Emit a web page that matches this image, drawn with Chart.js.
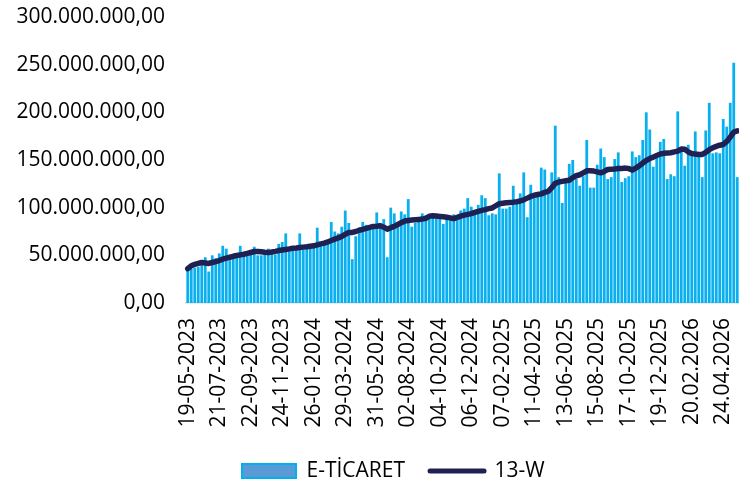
<!DOCTYPE html>
<html><head><meta charset="utf-8">
<script src="https://cdn.jsdelivr.net/npm/chart.js@4.4.1/dist/chart.umd.min.js"></script>
<style>html,body{margin:0;padding:0;background:#fff;}#wrap{width:739px;height:485px;position:relative;}</style>
</head><body><div id="wrap"><canvas id="c" width="739" height="485"></canvas></div>
<script>
// ---- data (values in millions) ----
const startDate = '2023-05-19';
const tickLabels = ['19-05-2023','21-07-2023','22-09-2023','24-11-2023','26-01-2024','29-03-2024','31-05-2024','02-08-2024','04-10-2024','06-12-2024','07-02-2025','11-04-2025','13-06-2025','15-08-2025','17-10-2025','19-12-2025','20.02.2026','24.04.2026'];
const eTicaretMn = [34,36,37,38,40,48,33,50,47,52, 60,57,45,47,49,60,50,51,51,59, 50,50,51,57,52,51,62,64,73,56, 59,57,73,56,57,57,59,79,63,64, 66,85,75,73,80,97,84,46,70,79, 85,82,79,81,95,84,88,48,100,94, 82,96,93,109,80,84,87,94,92,90, 93,91,88,83,88,91,93,87,97,99, 110,101,96,103,113,110,92,94,93,136, 99,99,101,123,107,115,137,90,124,110, 112,142,140,115,137,186,132,105,129,146, 150,130,123,133,171,121,121,145,162,153, 130,132,151,158,127,131,133,159,153,155, 171,200,182,143,152,169,172,130,135,133, 201,161,144,166,155,180,155,132,181,210, 157,158,157,193,185,210,252,132];
const w13Mn = [36,39,40.5,41.5,42.5,42,41.5,42.5,43.5,44.5, 46,47,48,49,49.8,50.5,51.2,52,53,54, 54,53.8,53.3,53,53.5,54.2,55,55.6,56.2,56.8, 57.5,57.8,58.2,58.6,59,59.5,60,61,62,62.8, 64,65.5,67,68.3,69.8,72,74,74,75,76.3, 77.3,78.3,79.3,80.3,80.6,81,79.5,77.5,79,80.4, 82.3,84.3,86,86.5,87,87.4,87.7,88,88.8,91, 91.5,91.2,90.8,90.4,90,89.3,88.5,89.8,91.2,92.2, 93,93.7,95,96.2,97.2,98,99,99.7,102,104.2, 104.7,105.2,105.5,105.8,106.2,107,108.2,110,111.8,113, 113.8,114.5,116,117,121,125.5,127,127.6,128.2,128.8, 131.5,133.5,134.5,136.5,138.7,138.8,138.4,137.5,136.5,138, 140,140.3,140.6,141,141.2,141.5,141,139.5,141.5,143.8, 146.8,149.5,151.5,153,154.8,156.3,157,157.3,157.6,158.5, 159.3,161.5,161.2,158.5,156.8,156.2,155.8,155.8,158,160.8, 162.8,164.3,165.5,166.3,169.5,174,179.3,180.5];
const yMinMn = 0, yMaxMn = 300, yStepMn = 50;
const tickEvery = 9;

// weekly category labels
const categories = [];
{
  const d0 = new Date(startDate + 'T00:00:00Z');
  for (let i = 0; i < eTicaretMn.length; i++) {
    const d = new Date(d0.getTime() + i * 7 * 86400000);
    const dd = String(d.getUTCDate()).padStart(2,'0'), mm = String(d.getUTCMonth()+1).padStart(2,'0');
    categories.push(dd + '-' + mm + '-' + d.getUTCFullYear());
  }
}
function trFormat(vMn){
  const n = Math.round(vMn * 1e6);
  return String(n).replace(/\B(?=(\d{3})+(?!\d))/g, '.') + ',00';
}

Chart.defaults.font.family = "'Open Sans', sans-serif";
Chart.defaults.font.size = 21;
Chart.defaults.color = '#000';

const LEG_PAD = 25;
const legendShift = {
  id: 'legendShift',
  afterLayout(chart) {
    const l = chart.legend;
    if (!l || !l.lineWidths) return;
    const x0 = (l.left + LEG_PAD + l.right - l.lineWidths[0]) / 2;
    const dx = 242 - x0;
    const dy = 471 - (l.top + LEG_PAD + 10.5);
    l.left += dx; l.right += dx; l.top += dy; l.bottom += dy;
  }
};

new Chart(document.getElementById('c'), {
  data: {
    labels: categories,
    datasets: [
      { type: 'bar', label: 'E-TİCARET', data: eTicaretMn, backgroundColor: '#0AAFEE',
        barPercentage: 0.8, categoryPercentage: 1.0, order: 1 },
      { type: 'line', label: '13-W', data: w13Mn, borderColor: '#1F2152', borderWidth: 5.5,
        pointRadius: 0, tension: 0, borderCapStyle: 'round', borderJoinStyle: 'round', order: 0 }
    ]
  },
  options: {
    responsive: false,
    animation: false,
    layout: { padding: { top: 17, left: 0, right: 0, bottom: 0 } },
    plugins: {
      tooltip: { enabled: false },
      legend: {
        position: 'bottom',
        labels: {
          usePointStyle: true,
          pointStyleWidth: 54,
          boxHeight: 14,
          padding: LEG_PAD,
          font: { size: 21 },
          generateLabels: (chart) => [
            { text: chart.data.datasets[0].label, fillStyle: '#5B9BD5', strokeStyle: '#00B0F0', lineWidth: 2,
              pointStyle: 'rect', datasetIndex: 0, hidden: false, fontColor: '#000' },
            { text: chart.data.datasets[1].label, fillStyle: '#1F2152', strokeStyle: '#1F2152', lineWidth: 5,
              lineCap: 'round', pointStyle: 'line', datasetIndex: 1, hidden: false, fontColor: '#000' }
          ]
        }
      }
    },
    scales: {
      x: {
        type: 'category',
        offset: true,
        grid: { display: false, drawTicks: false },
        border: { display: true, color: '#D9D9D9', width: 1.5 },
        ticks: {
          autoSkip: false, maxRotation: 90, minRotation: 90, padding: 15,
          font: { size: 21 }, color: '#000',
          callback: (v, i) => (i % tickEvery === 0 && tickLabels[i / tickEvery]) ? tickLabels[i / tickEvery] : ''
        },
        afterFit: (s) => { s.height = 126; s.paddingLeft = 0; s.paddingRight = 0; }
      },
      y: {
        min: yMinMn, max: yMaxMn,
        grid: { display: false, drawTicks: false },
        border: { display: false },
        ticks: { stepSize: yStepMn, padding: 21, font: { size: 21 }, color: '#000', callback: (v) => trFormat(v) },
        afterFit: (s) => { s.width = 186; s.paddingTop = 0; s.paddingBottom = 0; }
      }
    }
  },
  plugins: [legendShift]
});
</script>
</body></html>
